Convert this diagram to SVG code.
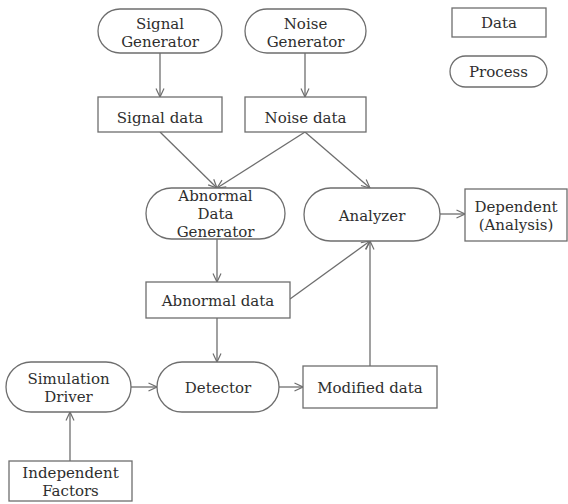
<svg xmlns="http://www.w3.org/2000/svg" width="568" height="504" viewBox="0 0 568 504">
  <defs>
    <style>
      .box { fill: #ffffff; stroke: #6e6e6e; stroke-width: 1.3; }
      .lbl { font-family: "DejaVu Serif", "Liberation Serif", serif; font-size: 15px; fill: #2e2e2e; text-anchor: middle; }
      .edge { fill: none; stroke: #6e6e6e; stroke-width: 1.3; marker-end: url(#arrow); }
    </style>
    <marker id="arrow" viewBox="0 0 10 10" refX="9.5" refY="5" markerWidth="10" markerHeight="10" markerUnits="userSpaceOnUse" orient="auto">
      <path d="M1,1 L9.5,5 L1,9" fill="none" stroke="#6e6e6e" stroke-width="1.2"/>
    </marker>
  </defs>
  <rect width="568" height="504" fill="#ffffff"/>

  <!-- connectors -->
  <g id="connectors">
    <line class="edge" x1="160" y1="53" x2="160" y2="97"/>
    <line class="edge" x1="305" y1="53" x2="305" y2="97"/>
    <line class="edge" x1="160" y1="132" x2="217" y2="188"/>
    <line class="edge" x1="305" y1="132" x2="217" y2="188"/>
    <line class="edge" x1="305" y1="132" x2="370" y2="188"/>
    <line class="edge" x1="440" y1="214" x2="465" y2="214"/>
    <line class="edge" x1="217" y1="239" x2="217" y2="282"/>
    <line class="edge" x1="290" y1="299" x2="370" y2="241"/>
    <line class="edge" x1="217" y1="318" x2="217" y2="362"/>
    <line class="edge" x1="131" y1="387" x2="157" y2="387"/>
    <line class="edge" x1="279" y1="387" x2="303" y2="387"/>
    <line class="edge" x1="370" y1="366" x2="370" y2="241"/>
    <line class="edge" x1="70" y1="461" x2="70" y2="412"/>
  </g>

  <!-- legend -->
  <g id="legend-data">
    <rect class="box" x="452" y="8" width="94" height="29"/>
    <text class="lbl" x="499" y="28">Data</text>
  </g>
  <g id="legend-process">
    <rect class="box" x="450" y="56" width="97" height="31" rx="15.5"/>
    <text class="lbl" x="498.5" y="77">Process</text>
  </g>

  <!-- process nodes -->
  <g id="signal-generator">
    <rect class="box" x="98" y="9" width="124" height="44" rx="22"/>
    <text class="lbl" x="160" y="29">Signal</text>
    <text class="lbl" x="160" y="47">Generator</text>
  </g>
  <g id="noise-generator">
    <rect class="box" x="245" y="9" width="121" height="44" rx="22"/>
    <text class="lbl" x="305.5" y="29">Noise</text>
    <text class="lbl" x="305.5" y="47">Generator</text>
  </g>
  <g id="abnormal-data-generator">
    <rect class="box" x="146" y="188" width="139" height="51" rx="25.5"/>
    <text class="lbl" x="215.5" y="201">Abnormal</text>
    <text class="lbl" x="215.5" y="219">Data</text>
    <text class="lbl" x="215.5" y="237">Generator</text>
  </g>
  <g id="analyzer">
    <rect class="box" x="304" y="188" width="136" height="53" rx="26.5"/>
    <text class="lbl" x="372" y="221">Analyzer</text>
  </g>
  <g id="simulation-driver">
    <rect class="box" x="6" y="362" width="125" height="50" rx="25"/>
    <text class="lbl" x="68.5" y="384">Simulation</text>
    <text class="lbl" x="68.5" y="402">Driver</text>
  </g>
  <g id="detector">
    <rect class="box" x="157" y="362" width="122" height="50" rx="25"/>
    <text class="lbl" x="218" y="393">Detector</text>
  </g>

  <!-- data nodes -->
  <g id="signal-data">
    <rect class="box" x="98" y="97" width="124" height="35"/>
    <text class="lbl" x="160" y="123">Signal data</text>
  </g>
  <g id="noise-data">
    <rect class="box" x="245" y="97" width="121" height="35"/>
    <text class="lbl" x="305.5" y="123">Noise data</text>
  </g>
  <g id="dependent">
    <rect class="box" x="465" y="189" width="102" height="52"/>
    <text class="lbl" x="516" y="212">Dependent</text>
    <text class="lbl" x="516" y="230">(Analysis)</text>
  </g>
  <g id="abnormal-data">
    <rect class="box" x="146" y="282" width="144" height="36"/>
    <text class="lbl" x="218" y="306">Abnormal data</text>
  </g>
  <g id="modified-data">
    <rect class="box" x="303" y="366" width="134" height="42"/>
    <text class="lbl" x="370" y="393">Modified data</text>
  </g>
  <g id="independent-factors">
    <rect class="box" x="9" y="461" width="123" height="40"/>
    <text class="lbl" x="70.5" y="478">Independent</text>
    <text class="lbl" x="70.5" y="496">Factors</text>
  </g>
</svg>
